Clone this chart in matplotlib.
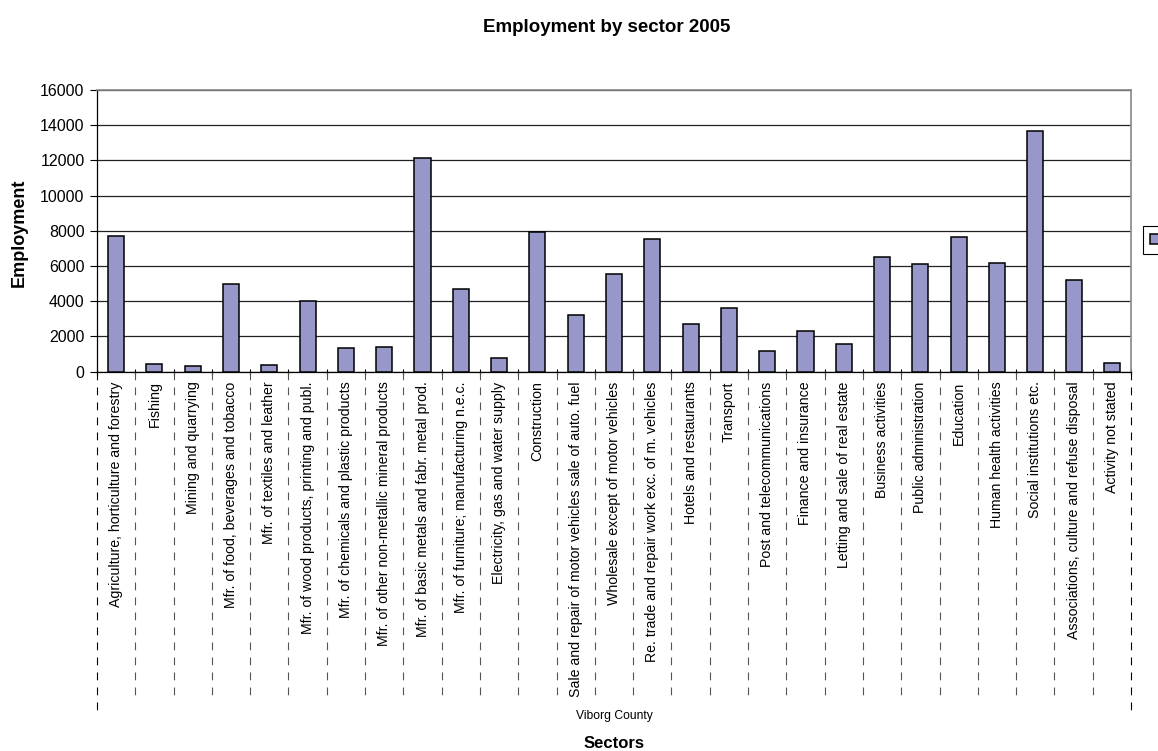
import numpy as np
import matplotlib
matplotlib.use("Agg")
import matplotlib.pyplot as plt
import matplotlib.transforms as mtransforms

plt.rcParams['font.family'] = ['Liberation Sans', 'DejaVu Sans']

sectors = [
    "Agriculture, horticulture and forestry", "Fishing", "Mining and quarrying",
    "Mfr. of food, beverages and tobacco", "Mfr. of textiles and leather",
    "Mfr. of wood products, printing and publ.", "Mfr. of chemicals and plastic products",
    "Mfr. of other non-metallic mineral products", "Mfr. of basic metals and fabr. metal prod.",
    "Mfr. of furniture; manufacturing n.e.c.", "Electricity, gas and water supply",
    "Construction", "Sale and repair of motor vehicles sale of auto. fuel",
    "Wholesale except of motor vehicles", "Re. trade and repair work exc. of m. vehicles",
    "Hotels and restaurants", "Transport", "Post and telecommunications",
    "Finance and insurance", "Letting and sale of real estate", "Business activities",
    "Public administration", "Education", "Human health activities",
    "Social institutions etc.", "Associations, culture and refuse disposal",
    "Activity not stated",
]
employment = [7700, 450, 300, 5000, 380, 4000, 1360, 1380, 12150, 4700, 760,
              7950, 3220, 5530, 7510, 2710, 3640, 1170, 2330, 1550, 6530,
              6120, 7670, 6170, 13690, 5230, 470]
group_label = "Viborg County"
yticks = [0, 2000, 4000, 6000, 8000, 10000, 12000, 14000, 16000]

fig = plt.figure(figsize=(11.58, 7.51), dpi=100)
fig.set_facecolor('white')
ax = fig.add_axes([97 / 1158, 1 - 371.7 / 751, (1131 - 97) / 1158, (371.7 - 90) / 751])

n = len(sectors)
x = np.arange(n)
bars = ax.bar(x, employment, width=0.42, color='#9797CA', edgecolor='black', linewidth=1.1, zorder=3)

ax.set_xlim(-0.5, n - 0.5)
ax.set_ylim(0, 16000)
ax.set_yticks(yticks)
ax.set_yticklabels([str(v) for v in yticks], fontsize=11.5)
ax.yaxis.grid(True, color='#222222', linewidth=0.9, zorder=0)
ax.tick_params(axis='y', length=5, width=0.8, direction='out', pad=4)

# category labels under the axis
ax.set_xticks(np.arange(n + 1) - 0.5)
ax.set_xticklabels([])
ax.tick_params(axis='x', which='major', length=4, width=0.8, direction='inout')
ax.set_xticks(x, minor=True)
ax.set_xticklabels(sectors, minor=True, rotation=90, fontsize=10.2, va='top')
ax.tick_params(axis='x', which='minor', length=0, pad=7)

for s in ['top', 'right']:
    ax.spines[s].set_color('#888888')
    ax.spines[s].set_linewidth(1.2)
ax.spines['left'].set_linewidth(0.9)
ax.spines['bottom'].set_linewidth(0.9)

# dashed separators between categories
trans = mtransforms.blended_transform_factory(ax.transData, ax.transAxes)
inner = np.arange(1, n) - 0.5
ax.vlines(inner, 0, -(695 - 371.7) / 281.7, transform=trans, clip_on=False,
          colors='#555555', linewidth=0.8, linestyles=[(0, (7, 6.5))])
ax.vlines([-0.5, n - 0.5], 0, -(717 - 371.7) / 281.7, transform=trans, clip_on=False,
          colors='black', linewidth=0.8, linestyles=[(0, (7, 6.5))])

fig.text(614 / 1158, 1 - 716 / 751, group_label, ha='center', va='center', fontsize=8.7)
fig.text(614 / 1158, 1 - 743 / 751, "Sectors", ha='center', va='center', fontsize=12, fontweight='bold')
fig.text(19 / 1158, 1 - 233 / 751, "Employment", ha='center', va='center', rotation=90,
         fontsize=13, fontweight='bold')
fig.text(607 / 1158, 1 - 28 / 751, "Employment by sector 2005", ha='center', va='center',
         fontsize=13.5, fontweight='bold')

leg = fig.legend([bars], [''], loc='upper left', bbox_to_anchor=(1143 / 1158, 1 - 226 / 751),
                 borderaxespad=0, fancybox=False, edgecolor='black', framealpha=1,
                 handlelength=0.8, handleheight=0.8, borderpad=0.5, handletextpad=0.4,
                 fontsize=10)
leg.get_frame().set_linewidth(0.8)

fig.savefig('out.png', dpi=100)
